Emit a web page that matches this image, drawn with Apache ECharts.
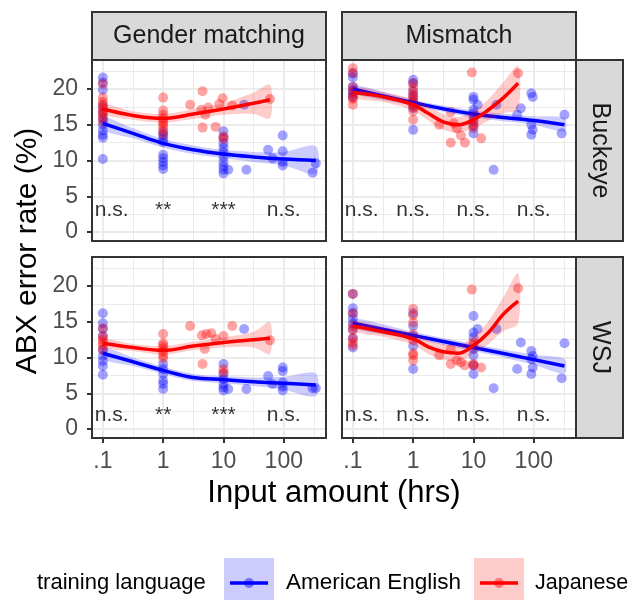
<!DOCTYPE html>
<html><head><meta charset="utf-8">
<script src="https://cdn.jsdelivr.net/npm/echarts@6/dist/echarts.min.js"></script>
<style>html,body{margin:0;padding:0;background:#fff}#c{width:631px;height:600px}</style>
</head><body><div id="c"></div>
<script>
const FONT = '"Liberation Sans", Arial, Helvetica, sans-serif';
const colFacets = ['Gender matching', 'Mismatch'];
const rowFacets = ['Buckeye', 'WSJ'];
const xTickVals = [0.1, 1, 10, 100];
const xTickLabels = ['.1', '1', '10', '100'];
const yTickVals = [0, 5, 10, 15, 20];
const languages = ['American English', 'Japanese'];
const xTitle = 'Input amount (hrs)';
const yTitle = 'ABX error rate (%)';
const legendTitle = 'training language';

// points grouped by input hours: [hours, [error rates]]
const gmBuckEng = [[0.1,[21.6,20.9,19.9,17.6,16.7,15.8,15.0,14.2,13.6,13.2,10.2]],[1,[14.0,13.5,13.0,12.6,10.8,10.3,9.8,9.3,8.8]],[10,[14.1,13.2,12.4,11.8,11.2,10.5,9.8,9.2,8.7,8.2]],[12,[8.7]],[22,[17.8]],[24,[8.7]],[55,[11.5]],[65,[10.3]],[96,[13.5,11.3,9.8,9.3]],[300,[8.3]],[340,[9.6]]];
const gmBuckJpn = [[0.1,[20.7,18.8,18.2,17.8,17.3,16.9,16.4,16.0,15.4]],[1,[18.8,17.0,16.4,15.9,15.5,15.2,14.8,14.3,13.7]],[2.8,[17.8]],[4.3,[17.1]],[4.5,[19.7,14.6]],[5.0,[16.4]],[5.6,[17.4]],[7.4,[14.7]],[8.5,[17.9]],[9.7,[18.7]],[10,[13.4,13.0]],[14,[17.7]],[59,[18.6]]];
const mmBuckEng = [[0.1,[22.2,21.6,20.3,19.8,19.3,18.9]],[1,[21.3,20.8,19.7,19.0,18.3,17.8,17.3,14.3]],[10,[18.9,18.5,17.1,16.6,16.2,15.5,14.8,13.8]],[11.7,[17.8]],[21.6,[8.7]],[24,[17.8]],[53,[16.4]],[61,[17.3]],[91,[19.4,15.0,13.6]],[96,[18.9,14.3]],[290,[13.8]],[323,[16.4]]];
const mmBuckJpn = [[0.1,[22.9,22.2,20.3,19.6,18.9,18.6,17.8]],[1,[20.8,20.1,19.4,19.0,18.5,18.0,17.5,16.9,15.7]],[2.7,[15.0]],[4.2,[16.8,12.5]],[4.7,[15.2]],[5.3,[14.5]],[6.2,[13.5]],[7.2,[12.5]],[9.4,[22.3]],[10,[15.7,15.0,14.5]],[13.4,[13.1]],[55,[22.2]]];
const gmWsjEng = [[0.1,[16.2,14.8,14.0,13.0,11.1,10.2,9.5,8.8,7.6]],[1,[9.1,8.4,7.7,6.8,6.3,5.6]],[10,[9.1,7.7,7.0,6.3,5.8,5.4]],[12,[5.6]],[22,[14.0]],[24,[5.6]],[55,[7.4]],[65,[6.3]],[96,[8.6,8.1,6.5,5.9,5.4]],[300,[5.7]],[340,[5.7]]];
const gmWsjJpn = [[0.1,[14.1,12.9,12.5,12.1,11.7,11.1]],[1,[13.3,12.0,11.7,11.3,10.8,10.3,9.9]],[2.8,[14.4]],[4.4,[13.1]],[4.5,[9.1]],[4.9,[11.2]],[5.2,[13.3]],[6.3,[13.4]],[7.4,[12.6]],[10,[13.0,8.4,7.9]],[14,[14.4]],[59,[12.4]]];
const mmWsjEng = [[0.1,[18.9,16.9,16.2,15.5,14.8,14.0,12.7,11.4]],[1,[16.2,14.4,13.0,11.6,8.4]],[10,[15.8,13.5,12.8,11.2,10.3,8.9,7.7]],[11.7,[14.0]],[21.6,[5.7]],[24,[14.0]],[53,[8.4]],[61,[12.1]],[91,[10.9,9.8,7.7]],[96,[10.2,8.6]],[290,[7.1]],[323,[12.0]]];
const mmWsjJpn = [[0.1,[18.9,16.2,14.4,13.8,12.7,12.1,11.7]],[1,[16.8,15.9,14.9,13.3,12.4,10.6,10.3,9.6]],[2.7,[10.3]],[4.2,[11.2,9.1]],[5.3,[9.6]],[6.2,[9.3]],[7.2,[8.9]],[9.4,[19.5]],[10,[12.1,11.7,9.1,8.9]],[13.4,[8.6]],[55,[19.7]]];

// smoothed fits: hours, fit, lower, upper
const gmEngFitX = [0.1,0.316,1,3.16,10,31.6,100,340];
const gmJpnFitX = [0.1,0.316,1,3.16,10,31.6,59];
const mmEngFitX = [0.1,1,10,100,323];
const mmJpnFitX = [0.1,0.316,1,1.78,3.16,5.6,10,17.8,31.6,55];
const gmBuckEngFit = [15.2,13.8,12.4,11.5,10.9,10.5,10.2,10.0];
const gmBuckEngLo  = [14.3,13.1,11.8,10.9,10.3,9.8,9.3,8.2];
const gmBuckEngHi  = [16.1,14.5,13.0,12.1,11.5,11.2,11.2,12.0];
const gmBuckJpnFit = [17.2,16.3,15.9,16.5,17.2,18.0,18.5];
const gmBuckJpnLo  = [16.5,15.7,15.3,15.8,16.4,16.5,15.9];
const gmBuckJpnHi  = [17.9,16.9,16.5,17.2,18.0,19.5,20.6];
const mmBuckEngFit = [20.0,18.1,16.5,15.6,15.0];
const mmBuckEngLo  = [19.4,17.7,16.0,15.0,14.1];
const mmBuckEngHi  = [20.6,18.5,17.0,16.2,15.9];
const mmBuckJpnFit = [19.5,18.9,17.8,16.6,15.4,15.0,15.7,17.1,18.8,20.8];
const mmBuckJpnLo  = [18.8,18.2,17.0,15.6,14.3,13.9,14.5,15.6,16.6,17.2];
const mmBuckJpnHi  = [20.2,19.6,18.6,17.6,16.5,16.1,16.9,18.6,21.0,23.2];
const gmWsjEngFit = [10.6,9.4,8.2,7.2,6.9,6.6,6.4,6.15];
const gmWsjEngLo  = [9.8,8.8,7.7,6.7,6.4,6.0,5.5,4.6];
const gmWsjEngHi  = [11.4,10.0,8.7,7.7,7.4,7.2,7.3,7.8];
const gmWsjJpnFit = [12.0,11.4,11.0,11.6,12.1,12.5,12.7];
const gmWsjJpnLo  = [11.4,10.9,10.4,11.0,11.4,11.4,10.5];
const gmWsjJpnHi  = [12.6,11.9,11.6,12.2,12.8,13.6,14.9];
const mmWsjEngFit = [14.8,13.1,11.4,9.7,8.8];
const mmWsjEngLo  = [14.1,12.6,10.9,9.0,7.8];
const mmWsjEngHi  = [15.5,13.6,11.9,10.4,9.8];
const mmWsjJpnFit = [14.4,13.6,12.6,11.5,10.8,10.6,11.7,13.5,16.1,17.9];
const mmWsjJpnLo  = [13.7,12.9,11.8,10.5,9.7,9.5,10.5,11.9,13.7,14.8];
const mmWsjJpnHi  = [15.1,14.3,13.4,12.5,11.9,11.7,12.9,15.1,18.5,21.8];

// significance labels
const sigX = [0.14, 1, 10, 100];
const gmSig = ['n.s.', '**', '***', 'n.s.'];
const mmSig = ['n.s.', 'n.s.', 'n.s.', 'n.s.'];
const sigYTop = 3.1, sigYBottom = 1.9;

const majorGridX = [0.1, 1, 10, 100];
const minorGridX = [0.316, 3.16, 31.6, 316];
const majorGridY = [0, 5, 10, 15, 20];
const minorGridY = [2.5, 7.5, 12.5, 17.5, 22.5];

// ---------- layout ----------
const panelLeft = [92, 342], panelTop = [60, 257], panelW = 234, panelH = 181;
const xMin = -1.18, xMax = 2.7, yMin = -1.26, yMax = 24.06;
const BLUE = '#0000ff', RED = '#ff0000';

const panels = [
  {r:0,c:0, eng:gmBuckEng, jpn:gmBuckJpn, ex:gmEngFitX, ef:gmBuckEngFit, el:gmBuckEngLo, eh:gmBuckEngHi, jx:gmJpnFitX, jf:gmBuckJpnFit, jl:gmBuckJpnLo, jh:gmBuckJpnHi, sig:gmSig, sy:sigYTop},
  {r:0,c:1, eng:mmBuckEng, jpn:mmBuckJpn, ex:mmEngFitX, ef:mmBuckEngFit, el:mmBuckEngLo, eh:mmBuckEngHi, jx:mmJpnFitX, jf:mmBuckJpnFit, jl:mmBuckJpnLo, jh:mmBuckJpnHi, sig:mmSig, sy:sigYTop},
  {r:1,c:0, eng:gmWsjEng, jpn:gmWsjJpn, ex:gmEngFitX, ef:gmWsjEngFit, el:gmWsjEngLo, eh:gmWsjEngHi, jx:gmJpnFitX, jf:gmWsjJpnFit, jl:gmWsjJpnLo, jh:gmWsjJpnHi, sig:gmSig, sy:sigYBottom},
  {r:1,c:1, eng:mmWsjEng, jpn:mmWsjJpn, ex:mmEngFitX, ef:mmWsjEngFit, el:mmWsjEngLo, eh:mmWsjEngHi, jx:mmJpnFitX, jf:mmWsjJpnFit, jl:mmWsjJpnLo, jh:mmWsjJpnHi, sig:mmSig, sy:sigYBottom}
];

const lg = Math.log10;
function flat(groups){ const out=[]; groups.forEach(([h, ys]) => ys.forEach(y => out.push([lg(h), y]))); return out; }
function pairs(xs, ys){ return xs.map((x,i) => [lg(x), ys[i]]); }

const grids = [], xAxes = [], yAxes = [], series = [];
const xLabelMap = {}; xTickVals.forEach((v,i) => xLabelMap[Math.round(lg(v))] = xTickLabels[i]);

panels.forEach((p, i) => {
  grids.push({left: panelLeft[p.c], top: panelTop[p.r], width: panelW, height: panelH, show: true, backgroundColor: '#fff', borderWidth: 0, outerBoundsMode: 'none'});
  const bottom = p.r === 1, left = p.c === 0;
  xAxes.push({gridIndex: i, type: 'value', min: xMin, max: xMax,
    axisLine: {show: bottom, onZero: false, lineStyle: {color: '#333', width: 2}},
    axisTick: {show: bottom, length: 5, customValues: xTickVals.map(lg), lineStyle: {color: '#333', width: 2}},
    axisLabel: {show: bottom, customValues: xTickVals.map(lg), margin: 12, color: '#4d4d4d', fontSize: 23, fontFamily: FONT,
      formatter: v => { const k = Math.round(v); return Math.abs(v - k) < 1e-6 && xLabelMap[k] !== undefined ? xLabelMap[k] : ''; }},
    splitLine: {show: false}});
  yAxes.push({gridIndex: i, type: 'value', min: yMin, max: yMax,
    axisLine: {show: left, onZero: false, lineStyle: {color: '#333', width: 2}},
    axisTick: {show: left, length: 5, customValues: yTickVals, lineStyle: {color: '#333', width: 2}},
    axisLabel: {show: left, customValues: yTickVals, margin: 14, color: '#4d4d4d', fontSize: 23, fontFamily: FONT,
      formatter: v => yTickVals.includes(v) ? String(v) : ''},
    splitLine: {show: false}});

  const ml = [];
  majorGridX.forEach(v => ml.push({xAxis: lg(v), lineStyle: {color: '#ebebeb', width: 2, type: 'solid'}}));
  minorGridX.forEach(v => { if (lg(v) < xMax) ml.push({xAxis: lg(v), lineStyle: {color: '#ebebeb', width: 1, type: 'solid'}}); });
  majorGridY.forEach(v => ml.push({yAxis: v, lineStyle: {color: '#ebebeb', width: 2, type: 'solid'}}));
  minorGridY.forEach(v => ml.push({yAxis: v, lineStyle: {color: '#ebebeb', width: 1, type: 'solid'}}));
  series.push({type: 'scatter', xAxisIndex: i, yAxisIndex: i, data: [[0, 0]], symbolSize: 0, z: 0, silent: true,
    itemStyle: {color: 'rgba(0,0,0,0)'},
    markLine: {z: 0, zlevel: 0, silent: true, symbol: ['none','none'], label: {show: false}, animation: false, data: ml}});

  series.push({type: 'scatter', xAxisIndex: i, yAxisIndex: i, data: flat(p.eng), symbolSize: 10, z: 2,
    itemStyle: {color: 'rgba(0,0,255,0.45)', borderWidth: 0}});
  series.push({type: 'scatter', xAxisIndex: i, yAxisIndex: i, data: flat(p.jpn), symbolSize: 10, z: 2,
    itemStyle: {color: 'rgba(255,0,0,0.45)', borderWidth: 0}});

  const band = (xs, lo, hi, col, z) => {
    series.push({type: 'custom', xAxisIndex: i, yAxisIndex: i, z: z, silent: true, clip: true,
      data: [[lg(xs[0]), lo[0]]],
      renderItem: (params, api) => {
        const up = xs.map((x, k) => api.coord([lg(x), hi[k]]));
        const dn = xs.map((x, k) => api.coord([lg(x), lo[k]])).reverse();
        return {type: 'polygon', shape: {points: up.concat(dn), smooth: 0.3}, style: {fill: col}};
      }});
  };
  const fit = (xs, ys, col, z) => series.push({type: 'line', xAxisIndex: i, yAxisIndex: i, data: pairs(xs, ys), symbol: 'none', smooth: 0.4,
    lineStyle: {color: col, width: 3.5}, z: z, silent: true});

  band(p.ex, p.el, p.eh, 'rgba(0,0,255,0.2)', 3);
  fit(p.ex, p.ef, BLUE, 4);
  band(p.jx, p.jl, p.jh, 'rgba(255,0,0,0.2)', 5);
  fit(p.jx, p.jf, RED, 6);

  series.push({type: 'scatter', xAxisIndex: i, yAxisIndex: i, symbolSize: 0, z: 8, silent: true,
    itemStyle: {color: 'rgba(0,0,0,0)'},
    data: sigX.map((x, k) => ({value: [lg(x), p.sy], name: p.sig[k]})),
    label: {show: true, position: 'inside', formatter: '{b}', color: '#000', fontSize: 21, fontFamily: FONT}});
});

const graphic = [];
const txt = (text, x, y, size, opts) => Object.assign({type: 'text', x: x, y: y, z: 100,
  style: Object.assign({text: text, fill: '#000', fontSize: size, fontFamily: FONT, align: 'center', verticalAlign: 'middle'}, (opts && opts.style) || {})},
  opts && opts.rotation !== undefined ? {rotation: opts.rotation} : {});
// panel borders
panels.forEach(p => graphic.push({type: 'rect', z: 90, shape: {x: panelLeft[p.c], y: panelTop[p.r], width: panelW, height: panelH},
  style: {fill: 'none', stroke: '#333', lineWidth: 2}}));
// top strips
colFacets.forEach((t, c) => {
  graphic.push({type: 'rect', z: 90, shape: {x: panelLeft[c], y: 12, width: panelW, height: 48}, style: {fill: '#d9d9d9', stroke: '#333', lineWidth: 2}});
  graphic.push(txt(t, panelLeft[c] + panelW / 2, 36, 25, {style: {fill: '#1a1a1a'}}));
});
// right strips
rowFacets.forEach((t, r) => {
  graphic.push({type: 'rect', z: 90, shape: {x: 576, y: panelTop[r], width: 47, height: panelH}, style: {fill: '#d9d9d9', stroke: '#333', lineWidth: 2}});
  graphic.push(txt(t, 599.5, panelTop[r] + panelH / 2, 25, {rotation: -Math.PI / 2, style: {fill: '#1a1a1a'}}));
});
// axis titles
graphic.push(txt(xTitle, 334, 493, 31));
graphic.push(txt(yTitle, 28, 251, 30, {rotation: Math.PI / 2}));
// legend
graphic.push(txt(legendTitle, 37, 583, 22, {style: {align: 'left'}}));
const keyX = [224, 474], labX = [286, 535], keyCol = [BLUE, RED], keyFill = ['rgba(0,0,255,0.2)', 'rgba(255,0,0,0.2)'];
languages.forEach((l, k) => {
  graphic.push({type: 'rect', z: 100, shape: {x: keyX[k], y: 558, width: 50, height: 44}, style: {fill: keyFill[k]}});
  graphic.push({type: 'line', z: 101, shape: {x1: keyX[k] + 6, y1: 583, x2: keyX[k] + 44, y2: 583}, style: {stroke: keyCol[k], lineWidth: 3.5}});
  graphic.push({type: 'circle', z: 102, shape: {cx: keyX[k] + 25, cy: 583, r: 5}, style: {fill: keyCol[k], opacity: 0.45}});
  graphic.push(txt(l, labX[k], 583, k === 0 ? 22.5 : 21.5, {style: {align: 'left'}}));
});

const chart = echarts.init(document.getElementById('c'), null, {renderer: 'canvas'});
chart.setOption({animation: false, backgroundColor: '#fff', grid: grids, xAxis: xAxes, yAxis: yAxes, series: series, graphic: graphic});
</script>
</body></html>
